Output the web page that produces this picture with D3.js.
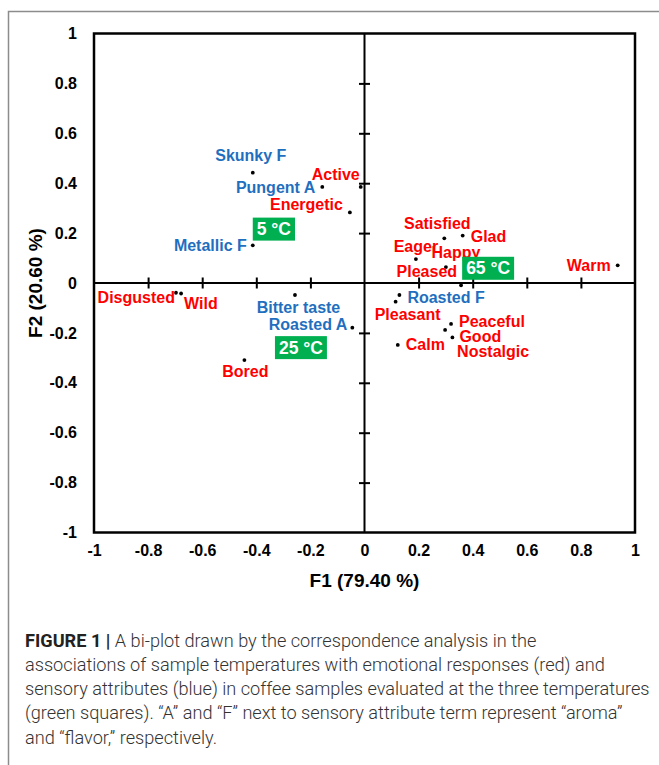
<!DOCTYPE html>
<html>
<head>
<meta charset="utf-8">
<script src="https://cdn.jsdelivr.net/npm/d3@7"></script>
<style>
  html, body { margin: 0; padding: 0; background: #fff; }
  svg { display: block; }
</style>
</head>
<body>
<svg id="chart" width="659" height="765"></svg>
<script>
// ---------- DATA ----------
const emotionLabels = ["Active", "Energetic", "Disgusted", "Wild", "Bored", "Satisfied", "Glad", "Eager", "Happy", "Pleased", "Warm", "Pleasant", "Peaceful", "Nostalgic", "Good", "Calm"];
const emotionF1 = [-0.014, -0.054, -0.697, -0.678, -0.444, 0.295, 0.363, 0.190, 0.301, 0.357, 0.936, 0.115, 0.320, 0.298, 0.325, 0.123];
const emotionF2 = [0.385, 0.283, -0.039, -0.042, -0.309, 0.179, 0.190, 0.096, 0.064, -0.009, 0.071, -0.075, -0.164, -0.188, -0.218, -0.248];

const sensoryLabels = ["Skunky F", "Pungent A", "Metallic F", "Bitter taste", "Roasted A", "Roasted F"];
const sensoryF1 = [-0.413, -0.156, -0.413, -0.257, -0.045, 0.129];
const sensoryF2 = [0.442, 0.385, 0.151, -0.048, -0.179, -0.048];

const tempLabels = ["5 °C", "25 °C", "65 °C"];
const tempF1 = [-0.335, -0.235, 0.457];
const tempF2 = [0.216, -0.259, 0.059];

const xTicks = [-1, -0.8, -0.6, -0.4, -0.2, 0, 0.2, 0.4, 0.6, 0.8, 1];
const yTicks = [-1, -0.8, -0.6, -0.4, -0.2, 0, 0.2, 0.4, 0.6, 0.8, 1];
const xTitle = "F1 (79.40 %)";
const yTitle = "F2 (20.60 %)";

const captionBold = "FIGURE 1 |";
const captionLines = [
  " A bi-plot drawn by the correspondence analysis in the",
  "associations of sample temperatures with emotional responses (red) and",
  "sensory attributes (blue) in coffee samples evaluated at the three temperatures",
  "(green squares). \u201CA\u201D and \u201CF\u201D next to sensory attribute term represent \u201Caroma\u201D",
  "and \u201Cflavor,\u201D respectively."
];

// ---------- LAYOUT (label placement relative to the point, px) ----------
const labelPlacement = {
  "Skunky F":    ["middle", -2, -12],
  "Pungent A":   ["end",    -7,   6],
  "Active":      ["end",    -1,  -7],
  "Energetic":   ["end",    -7,  -2],
  "Metallic F":  ["end",    -6,   6],
  "Disgusted":   ["end",    -1,  10],
  "Wild":        ["start",   3,  15.5],
  "Bitter taste":["middle", 3.5, 18],
  "Roasted A":   ["end",    -5,  2.5],
  "Bored":       ["middle",  1,  17],
  "Satisfied":   ["middle", -7,  -9],
  "Glad":        ["start",   8,   6],
  "Eager":       ["middle",  0,  -7],
  "Happy":       ["middle", 10,  -9],
  "Pleased":     ["end",    -4,  -8],
  "Warm":        ["end",    -7, 5.5],
  "Roasted F":   ["start",   8,   8],
  "Pleasant":    ["middle", 12,  18],
  "Peaceful":    ["start",   8,   3],
  "Good":        ["start",   7, 4.5],
  "Nostalgic":   ["start",  12,  27],
  "Calm":        ["start",   8,   5]
};

const RED = "#ff0000", BLUE = "#1f6fbf", GREEN = "#00b050";
const FONT = "'Liberation Sans', Arial, sans-serif";

const svg = d3.select("#chart");

// outer figure frame
svg.append("path")
  .attr("d", "M8.5,765 L8.5,11.5 L659,11.5")
  .attr("fill", "none").attr("stroke", "#8c8c8c").attr("stroke-width", 1.5);

const plot = { left: 94, right: 635, top: 33.5, bottom: 532.5 };
const x = d3.scaleLinear().domain([-1, 1]).range([plot.left, plot.right]);
const y = d3.scaleLinear().domain([-1, 1]).range([plot.bottom, plot.top]);

const fmt = d => String(+d.toFixed(1));

// frame
svg.append("rect")
  .attr("x", plot.left).attr("y", plot.top)
  .attr("width", plot.right - plot.left).attr("height", plot.bottom - plot.top)
  .attr("fill", "none").attr("stroke", "#000").attr("stroke-width", 2.5);

// center axes lines
svg.append("line").attr("x1", x(0)).attr("x2", x(0)).attr("y1", plot.top).attr("y2", plot.bottom)
  .attr("stroke", "#000").attr("stroke-width", 2);
svg.append("line").attr("x1", plot.left).attr("x2", plot.right).attr("y1", y(0)).attr("y2", y(0))
  .attr("stroke", "#000").attr("stroke-width", 2);

// tick marks on center axes (both sides)
const innerTicks = xTicks.filter(t => Math.abs(t) > 1e-9 && Math.abs(t) < 1);
const innerYTicks = yTicks.filter(t => Math.abs(t) > 1e-9 && Math.abs(t) < 1);
function tickAxis(axisGen, transform) {
  const g = svg.append("g").attr("transform", transform).call(axisGen);
  g.select(".domain").remove();
  g.selectAll("text").remove();
  g.selectAll("line").attr("stroke", "#000").attr("stroke-width", 2);
}
tickAxis(d3.axisLeft(y).tickValues(innerYTicks).tickSize(5.5), `translate(${x(0)},0)`);
tickAxis(d3.axisRight(y).tickValues(innerYTicks).tickSize(5.5), `translate(${x(0)},0)`);
tickAxis(d3.axisTop(x).tickValues(innerTicks).tickSize(5.5), `translate(0,${y(0)})`);
tickAxis(d3.axisBottom(x).tickValues(innerTicks).tickSize(5.5), `translate(0,${y(0)})`);

// tick labels
function labelAxis(axisGen, transform) {
  const g = svg.append("g").attr("transform", transform).call(axisGen);
  g.select(".domain").remove();
  g.selectAll("line").remove();
  g.selectAll("text").attr("font-family", FONT).attr("font-weight", "bold")
    .attr("font-size", 16).attr("fill", "#000");
  return g;
}
labelAxis(d3.axisLeft(y).tickValues(yTicks).tickFormat(fmt).tickSize(0).tickPadding(17), `translate(${plot.left},0)`);
labelAxis(d3.axisBottom(x).tickValues(xTicks).tickFormat(fmt).tickSize(0).tickPadding(12), `translate(0,${plot.bottom})`);

// axis titles
svg.append("text").attr("x", x(0)).attr("y", 587).attr("text-anchor", "middle")
  .attr("font-family", FONT).attr("font-weight", "bold").attr("font-size", 19).text(xTitle);
svg.append("text").attr("transform", `translate(42,${y(0)}) rotate(-90)`).attr("text-anchor", "middle")
  .attr("font-family", FONT).attr("font-weight", "bold").attr("font-size", 19).text(yTitle);

// points + labels
function drawSeries(labels, xs, ys, color) {
  labels.forEach((lab, i) => {
    const px = x(xs[i]), py = y(ys[i]);
    svg.append("circle").attr("cx", px).attr("cy", py).attr("r", 1.9).attr("fill", "#000");
    const p = labelPlacement[lab] || ["start", 5, 5];
    svg.append("text").attr("x", px + p[1]).attr("y", py + p[2]).attr("text-anchor", p[0])
      .attr("font-family", FONT).attr("font-weight", "bold").attr("font-size", 16)
      .attr("fill", color).text(lab);
  });
}
drawSeries(sensoryLabels, sensoryF1, sensoryF2, BLUE);
drawSeries(emotionLabels, emotionF1, emotionF2, RED);

// temperature squares
tempLabels.forEach((lab, i) => {
  const cx = x(tempF1[i]), cy = y(tempF2[i]);
  const t = svg.append("text").attr("x", cx).attr("y", cy).attr("text-anchor", "middle")
    .attr("dominant-baseline", "central")
    .attr("font-family", FONT).attr("font-weight", "bold").attr("font-size", 17.5)
    .attr("fill", "#fff").text(lab);
  const w = t.node().getComputedTextLength() + 8;
  svg.insert("rect", () => t.node())
    .attr("x", cx - w / 2).attr("y", cy - 11.5).attr("width", w).attr("height", 23)
    .attr("fill", GREEN);
});

// caption
const capFont = "Roboto, 'Liberation Sans', sans-serif";
const capSize = 17;
const capG = svg.append("g");
const baselines = [647, 671, 695, 719, 744];
captionLines.forEach((line, i) => {
  const t = capG.append("text").attr("x", 25).attr("y", baselines[i])
    .attr("font-family", capFont).attr("font-size", capSize).attr("font-weight", 300)
    .attr("fill", "#333");
  if (i === 0) {
    t.append("tspan").attr("font-weight", 700).attr("fill", "#222").text(captionBold);
  }
  t.append("tspan").text(line);
});
// fit caption width so that line 3 spans to ~650px
const l3 = capG.selectAll("text").nodes()[2];
const w3 = l3.getComputedTextLength();
const scale = 625 / w3;
capG.selectAll("text").attr("font-size", capSize * scale);
</script>
</body>
</html>
